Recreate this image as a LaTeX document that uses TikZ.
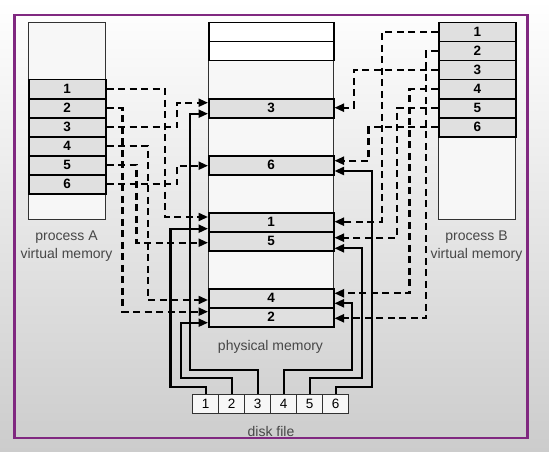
\documentclass[tikz,border=0pt]{standalone}
\usepackage{fontspec}
\setmainfont{Liberation Sans}
\usetikzlibrary{arrows.meta}
\definecolor{framepurple}{RGB}{128,40,128}
\definecolor{rowgray}{RGB}{224,224,224}
\definecolor{boxline}{RGB}{50,50,50}
\begin{document}
\begin{tikzpicture}[x=1pt,y=-1pt,
  outerbox/.style={draw=boxline, line width=1.4pt, fill=white!97!black, inner sep=0pt, anchor=north west},
  rowbox/.style={draw=black, line width=1.5pt, fill=rowgray, inner sep=0pt, anchor=north west,
    font=\fontsize{13.5}{15}\selectfont\bfseries},
  blankrow/.style={draw=black, line width=1.5pt, fill=white, inner sep=0pt, anchor=north west},
  diskcell/.style={draw=boxline, line width=1.4pt, fill=white!97!black, inner sep=0pt, anchor=north west,
    minimum width=26, minimum height=19, font=\fontsize{13.5}{15}\selectfont},
  lbl/.style={align=center, font=\fontsize{14}{18}\selectfont, text=black!72},
  vmap/.style={line width=2.1pt, dash pattern=on 7pt off 4.5pt, -{Triangle[length=9.5pt,width=8pt]}},
  dmap/.style={line width=2.1pt, -{Triangle[length=9.5pt,width=8pt]}}
]
\useasboundingbox (0,0) rectangle (549,452);
\shade[top color=white, middle color=white!96!black, bottom color=black!20] (0,0) rectangle (549,452);
\draw[framepurple, line width=2.6pt] (14.5,15) rectangle (527.5,438);

% process A
\node[outerbox, minimum width=77, minimum height=197] (procA) at (28,22) {};
\foreach \i in {1,...,6}{
  \node[rowbox, minimum width=77, minimum height=19] (A\i) at (28,{79+19*(\i-1)}) {\i};
}
% process B
\node[outerbox, minimum width=77, minimum height=197] (procB) at (438,22) {};
\foreach \i in {1,...,6}{
  \node[rowbox, minimum width=77, minimum height=19] (B\i) at (438,{22+19*(\i-1)}) {\i};
}
% physical memory
\node[outerbox, minimum width=125, minimum height=304] (phys) at (208,22) {};
\node[blankrow, minimum width=125, minimum height=19] (F1) at (208,22) {};
\node[blankrow, minimum width=125, minimum height=19] (F2) at (208,41) {};
\node[rowbox, minimum width=125, minimum height=19] (P3) at (208,98) {3};
\node[rowbox, minimum width=125, minimum height=19] (P6) at (208,155) {6};
\node[rowbox, minimum width=125, minimum height=19] (P1) at (208,212) {1};
\node[rowbox, minimum width=125, minimum height=19] (P5) at (208,231) {5};
\node[rowbox, minimum width=125, minimum height=19] (P4) at (208,288) {4};
\node[rowbox, minimum width=125, minimum height=19] (P2) at (208,307) {2};
% disk file
\foreach \i in {1,...,6}{
  \node[diskcell] (D\i) at ({192+26*(\i-1)},394) {\i};
}
% labels
\node[lbl] (labA) at (66.5,246) {process A\\virtual memory};
\node[lbl] (labB) at (476.5,246) {process B\\virtual memory};
\node[lbl] (labP) at (270.5,347) {physical memory};
\node[lbl] (labD) at (271,431) {disk file};

% process A mappings
\draw[vmap] (A1.east) -| (165,217) -- (P1.west |- 0,217);
\draw[vmap] (A2.east) -| (122.5,311.7) -- (P2.west |- 0,311.7);
\draw[vmap] (A3.east) -| (177,102.7) -- (P3.west |- 0,102.7);
\draw[vmap] (A4.east) -| (148,300) -- (P4.west |- 0,300);
\draw[vmap] (A5.east) -| (136.5,242.7) -- (P5.west |- 0,242.7);
\draw[vmap] (A6.east) -| (177,165.7) -- (P6.west |- 0,165.7);

% process B mappings
\draw[vmap] (B1.west) -| (381.6,221.7) -- (P1.east |- 0,221.7);
\draw[vmap] (B2.west) -| (426,318.3) -- (P2.east |- 0,318.3);
\draw[vmap] (B3.west) -| (353.6,107.7) -- (P3.east |- 0,107.7);
\draw[vmap] (B4.west) -| (409.5,293.3) -- (P4.east |- 0,293.3);
\draw[vmap] (B5.west) -| (396.7,237.7) -- (P5.east |- 0,237.7);
\draw[vmap] (B6.west) -| (368.5,160.7) -- (P6.east |- 0,160.7);

% disk file mappings
\draw[dmap] (D1.north) |- (170.5,386.7) |- (P1.west |- 0,228.7);
\draw[dmap] (D2.north) |- (181,378.3) |- (P2.west |- 0,322.7);
\draw[dmap] (D3.north) |- (190,370) |- (P3.west |- 0,113.7);
\draw[dmap] (D4.north) |- (352,370) |- (P4.east |- 0,303.3);
\draw[dmap] (D5.north) |- (361.7,378.3) |- (P5.east |- 0,248.3);
\draw[dmap] (D6.north) |- (371.8,386.7) |- (P6.east |- 0,171);
\end{tikzpicture}
\end{document}
